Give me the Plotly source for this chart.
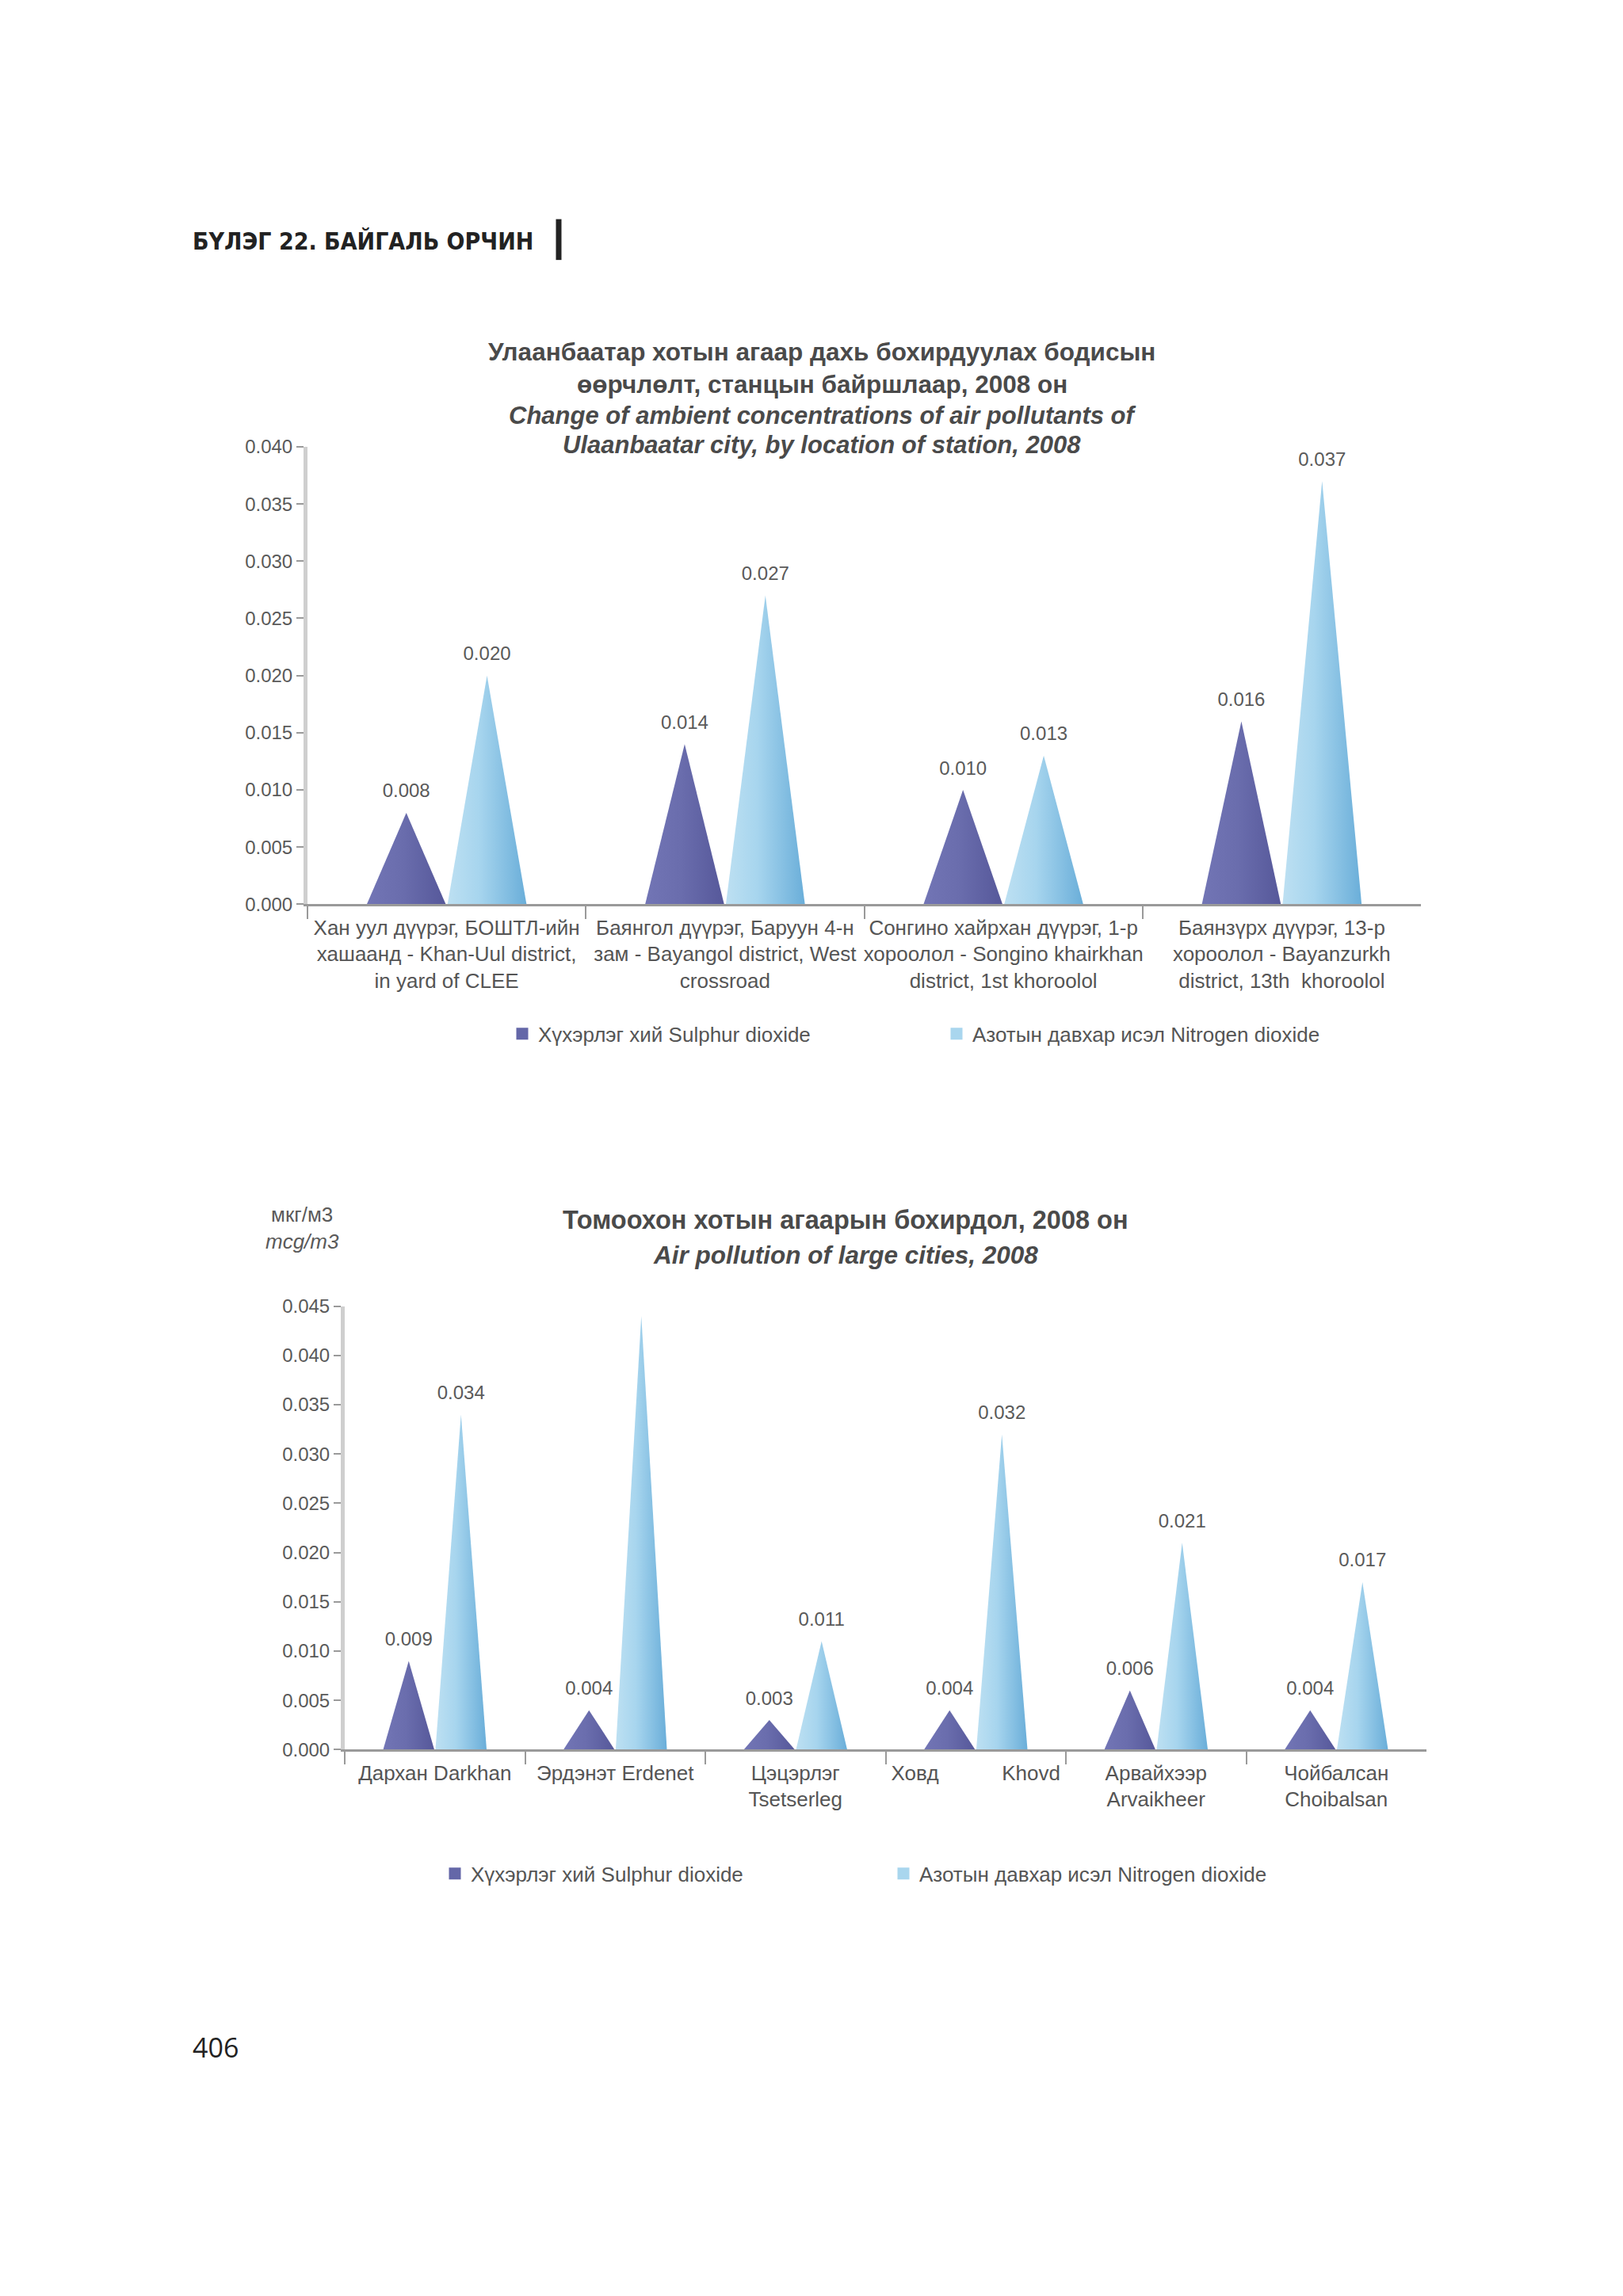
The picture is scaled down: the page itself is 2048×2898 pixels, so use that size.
import plotly.graph_objects as go

# ---------------- data ----------------
ub_categories = [
    "Хан уул дүүрэг, БОШТЛ-ийн<br>хашаанд - Khan-Uul district,<br>in yard of CLEE",
    "Баянгол дүүрэг, Баруун 4-н<br>зам - Bayangol district, West<br>crossroad",
    "Сонгино хайрхан дүүрэг, 1-р<br>хороолол - Songino khairkhan<br>district, 1st khoroolol",
    "Баянзүрх дүүрэг, 13-р<br>хороолол - Bayanzurkh<br>district, 13th  khoroolol",
]
ub_so2 = [0.008, 0.014, 0.010, 0.016]
ub_no2 = [0.020, 0.027, 0.013, 0.037]

city_categories = [
    "Дархан Darkhan",
    "Эрдэнэт Erdenet",
    "Цэцэрлэг<br>Tsetserleg",
    "Ховд" + "\u00a0" * 11 + "Khovd",
    "Арвайхээр<br>Arvaikheer",
    "Чойбалсан<br>Choibalsan",
]
city_so2 = [0.009, 0.004, 0.003, 0.004, 0.006, 0.004]
city_no2 = [0.034, 0.044, 0.011, 0.032, 0.021, 0.017]

series_names = ["Хүхэрлэг хий Sulphur dioxide", "Азотын давхар исэл Nitrogen dioxide"]

ub_ticks = [0.000, 0.005, 0.010, 0.015, 0.020, 0.025, 0.030, 0.035, 0.040]
city_ticks = [0.000, 0.005, 0.010, 0.015, 0.020, 0.025, 0.030, 0.035, 0.040, 0.045]

# ---------------- styles ----------------
W, H = 2048, 2898
FONT = "Liberation Sans, Arial, sans-serif"
SO2_SCALE = [[0, "#7275b5"], [0.45, "#6a6dad"], [1, "#56589a"]]
NO2_SCALE = [[0, "#bde0f2"], [0.4, "#a7d5ee"], [1, "#6aaed9"]]
SO2_SOLID = "#6467a8"
NO2_SOLID = "#a9d6ee"
OFFSET = 0.145
HALF = 0.142


def px(x):
    return x / W


def py(y):
    return 1 - y / H


fig = go.Figure()


def add_chart(cats, so2, no2, xa, ya, leg_a, leg_b):
    for s, (vals, scale, solid) in enumerate([(so2, SO2_SCALE, SO2_SOLID), (no2, NO2_SCALE, NO2_SOLID)]):
        off = -OFFSET if s == 0 else OFFSET
        for i, v in enumerate(vals):
            c = i + 0.5 + off
            fig.add_trace(go.Scatter(
                x=[c - HALF, c, c + HALF, c - HALF], y=[0, v, 0, 0],
                mode="lines", line=dict(width=0, color=solid), fill="toself",
                fillcolor=solid,
                fillgradient=dict(type="horizontal", colorscale=scale),
                xaxis=xa, yaxis=ya, showlegend=False, hoverinfo="skip"))
        # value labels
        fig.add_trace(go.Scatter(
            x=[i + 0.5 + off for i in range(len(vals))], y=vals,
            mode="markers+text", marker=dict(size=20, color="rgba(0,0,0,0)"),
            text=[f"{v:.3f}" for v in vals], textposition="top center",
            textfont=dict(family=FONT, size=24, color="#5a5a5a"),
            xaxis=xa, yaxis=ya, showlegend=False, hoverinfo="skip"))
        # legend entry
        fig.add_trace(go.Scatter(
            x=[None], y=[None], mode="markers",
            marker=dict(symbol="square", size=15, color=solid),
            name=series_names[s], legend=leg_a if s == 0 else leg_b,
            xaxis=xa, yaxis=ya))


add_chart(ub_categories, ub_so2, ub_no2, "x", "y", "legend", "legend2")
add_chart(city_categories, city_so2, city_no2, "x2", "y2", "legend3", "legend4")


def xaxis_cfg(n, domain, anchor, labels):
    return dict(
        domain=domain, anchor=anchor, range=[0, n], fixedrange=True,
        tickmode="array", tickvals=[i + 0.5 for i in range(n)], ticktext=labels,
        ticks="", showgrid=False, zeroline=False,
        showline=True, linecolor="#9a9a9a", linewidth=3,
        tickfont=dict(family=FONT, size=26, color="#555555"),
        ticklabelstandoff=4,
        minor=dict(tickmode="array", tickvals=list(range(n)), ticks="outside",
                   ticklen=16, tickcolor="#9a9a9a", tickwidth=2, showgrid=False),
    )


def yaxis_cfg(domain, anchor, ticks, top):
    return dict(
        domain=domain, anchor=anchor, range=[0, top], fixedrange=True,
        tickmode="array", tickvals=ticks, ticktext=[f"{t:.3f}" for t in ticks],
        ticks="outside", ticklen=9, tickcolor="#9a9a9a", tickwidth=2,
        showgrid=False, zeroline=False,
        showline=True, linecolor="#cfcfcf", linewidth=5,
        tickfont=dict(family=FONT, size=24, color="#5a5a5a"),
    )


legend_base = dict(orientation="h", font=dict(family=FONT, size=26, color="#555555"),
                   bgcolor="rgba(0,0,0,0)", xanchor="left", yanchor="middle",
                   itemwidth=30)

fig.update_layout(
    width=W, height=H, margin=dict(l=0, r=0, t=0, b=0),
    paper_bgcolor="white", plot_bgcolor="white",
    xaxis=xaxis_cfg(4, [px(380), px(1785)], "y", ub_categories),
    yaxis=yaxis_cfg([py(1130), py(547)], "x", ub_ticks, 0.040),
    xaxis2=xaxis_cfg(6, [px(427), px(1792)], "y2", city_categories),
    yaxis2=yaxis_cfg([py(2207), py(1642)], "x2", city_ticks, 0.045),
    legend=dict(legend_base, x=px(631), y=py(1295)),
    legend2=dict(legend_base, x=px(1179), y=py(1295)),
    legend3=dict(legend_base, x=px(546), y=py(2365)),
    legend4=dict(legend_base, x=px(1112), y=py(2365)),
    showlegend=True,
)

TC = "#4a4a4a"
annotations = [
    dict(text="<b>Улаанбаатар хотын агаар дахь бохирдуулах бодисын</b>",
         x=px(1029), y=py(426), font=dict(family=FONT, size=31.5, color=TC)),
    dict(text="<b>өөрчлөлт, станцын байршлаар, 2008 он</b>",
         x=px(1029), y=py(467), font=dict(family=FONT, size=31.5, color=TC)),
    dict(text="<b><i>Change of ambient concentrations of air pollutants of</i></b>",
         x=px(1029), y=py(507), font=dict(family=FONT, size=31, color=TC)),
    dict(text="<b><i>Ulaanbaatar city, by location of station, 2008</i></b>",
         x=px(1029), y=py(545), font=dict(family=FONT, size=31, color=TC)),
    dict(text="<b>Томоохон хотын агаарын бохирдол, 2008 он</b>",
         x=px(1059), y=py(1532), font=dict(family=FONT, size=32.5, color=TC)),
    dict(text="<b><i>Air pollution of large cities, 2008</i></b>",
         x=px(1059), y=py(1577), font=dict(family=FONT, size=31.5, color=TC)),
    dict(text="мкг/м3", x=px(373), y=py(1525), font=dict(family=FONT, size=26, color="#5a5a5a")),
    dict(text="<i>mcg/m3</i>", x=px(373), y=py(1560), font=dict(family=FONT, size=26, color="#5a5a5a")),
    dict(text="<b>БҮЛЭГ 22. БАЙГАЛЬ ОРЧИН</b>", x=px(233), y=py(285), xanchor="left",
         font=dict(family="Liberation Sans Narrow, DejaVu Sans Condensed, sans-serif", size=30, color="#222222")),
    dict(text="406", x=px(233), y=py(2586), xanchor="left",
         font=dict(family="Open Sans, sans-serif", size=34, color="#222222")),
]
for a in annotations:
    a.setdefault("xanchor", "center")
    a.update(xref="paper", yref="paper", yanchor="middle", showarrow=False)
fig.update_layout(annotations=annotations)

fig.add_shape(type="line", xref="paper", yref="paper",
              x0=px(697), x1=px(697), y0=py(257), y1=py(309),
              line=dict(color="#222222", width=7))

fig.write_html("out.html")
